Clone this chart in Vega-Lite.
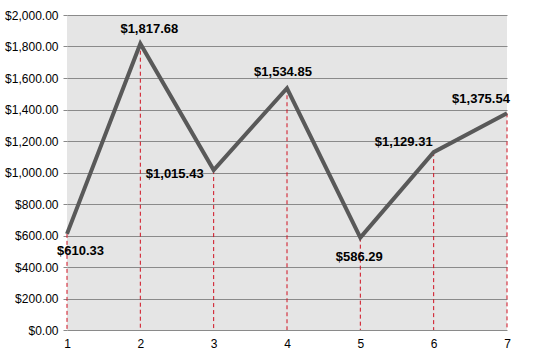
{
  "$schema": "https://vega.github.io/schema/vega-lite/v6.json",
  "width": 440,
  "height": 315,
  "autosize": "none",
  "padding": {"left": 67, "top": 15, "right": 35, "bottom": 30},
  "background": "white",
  "config": {
    "view": {"fill": "#e5e5e5", "stroke": null},
    "font": "Liberation Sans",
    "axis": {"labelFont": "Liberation Sans", "labelColor": "#000000", "labelFontSize": 12}
  },
  "data": {
    "values": [
      {"x": 1, "value": 610.33},
      {"x": 2, "value": 1817.68},
      {"x": 3, "value": 1015.43},
      {"x": 4, "value": 1534.85},
      {"x": 5, "value": 586.29},
      {"x": 6, "value": 1129.31},
      {"x": 7, "value": 1375.54}
    ]
  },
  "encoding": {
    "x": {
      "field": "x", "type": "quantitative",
      "scale": {"domain": [1, 7], "nice": false, "zero": false},
      "axis": {"title": null, "values": [1, 2, 3, 4, 5, 6, 7], "format": "d", "grid": false, "domain": false, "ticks": false, "labelPadding": 8, "labelFlush": false}
    },
    "y": {
      "field": "value", "type": "quantitative",
      "scale": {"domain": [0, 2000], "nice": false},
      "axis": {"title": null, "values": [0, 200, 400, 600, 800, 1000, 1200, 1400, 1600, 1800, 2000], "format": "$,.2f", "grid": true, "gridColor": "#8a8a8a", "gridWidth": 1, "gridOpacity": 1, "domain": false, "ticks": true, "tickSize": 4, "tickColor": "#8a8a8a", "labelPadding": 5, "labelFlush": false}
    }
  },
  "layer": [
    {
      "mark": {"type": "rule", "color": "#d01020", "strokeDash": [4, 3], "strokeWidth": 1},
      "encoding": {"y2": {"datum": 0}}
    },
    {
      "mark": {"type": "line", "color": "#595959", "strokeWidth": 4, "strokeJoin": "miter"}
    },
    {
      "transform": [{"filter": "datum.x == 1"}],
      "mark": {"type": "text", "align": "left", "baseline": "middle", "dx": -10, "dy": 17, "fontWeight": "bold", "fontSize": 13, "color": "#000000"},
      "encoding": {"text": {"field": "value", "type": "quantitative", "format": "$,.2f"}}
    },
    {
      "transform": [{"filter": "datum.x == 2"}],
      "mark": {"type": "text", "align": "center", "baseline": "middle", "dx": 9, "dy": -15, "fontWeight": "bold", "fontSize": 13, "color": "#000000"},
      "encoding": {"text": {"field": "value", "type": "quantitative", "format": "$,.2f"}}
    },
    {
      "transform": [{"filter": "datum.x == 3"}],
      "mark": {"type": "text", "align": "right", "baseline": "middle", "dx": -10, "dy": 4, "fontWeight": "bold", "fontSize": 13, "color": "#000000"},
      "encoding": {"text": {"field": "value", "type": "quantitative", "format": "$,.2f"}}
    },
    {
      "transform": [{"filter": "datum.x == 4"}],
      "mark": {"type": "text", "align": "center", "baseline": "middle", "dx": -4, "dy": -16, "fontWeight": "bold", "fontSize": 13, "color": "#000000"},
      "encoding": {"text": {"field": "value", "type": "quantitative", "format": "$,.2f"}}
    },
    {
      "transform": [{"filter": "datum.x == 5"}],
      "mark": {"type": "text", "align": "center", "baseline": "middle", "dx": -1, "dy": 19, "fontWeight": "bold", "fontSize": 13, "color": "#000000"},
      "encoding": {"text": {"field": "value", "type": "quantitative", "format": "$,.2f"}}
    },
    {
      "transform": [{"filter": "datum.x == 6"}],
      "mark": {"type": "text", "align": "right", "baseline": "middle", "dx": -1, "dy": -10, "fontWeight": "bold", "fontSize": 13, "color": "#000000"},
      "encoding": {"text": {"field": "value", "type": "quantitative", "format": "$,.2f"}}
    },
    {
      "transform": [{"filter": "datum.x == 7"}],
      "mark": {"type": "text", "align": "center", "baseline": "middle", "dx": -26, "dy": -14, "fontWeight": "bold", "fontSize": 13, "color": "#000000"},
      "encoding": {"text": {"field": "value", "type": "quantitative", "format": "$,.2f"}}
    }
  ]
}
